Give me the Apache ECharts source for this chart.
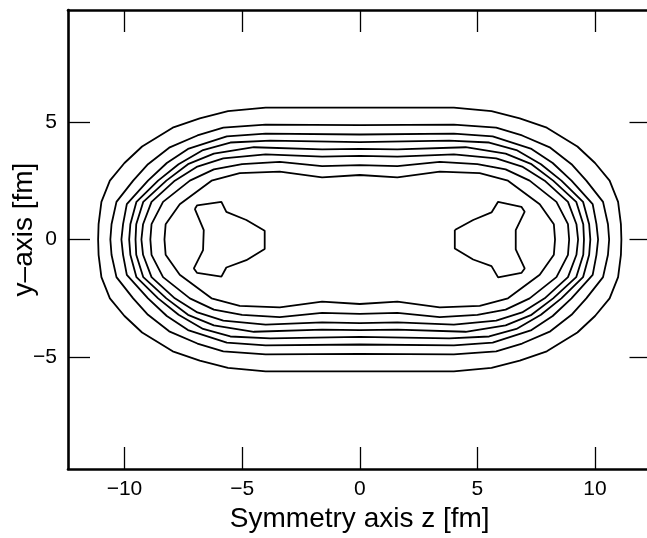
<!DOCTYPE html>
<html>
<head>
<meta charset="utf-8">
<script src="https://cdn.jsdelivr.net/npm/echarts@6/dist/echarts.min.js"></script>
<style>
html,body{margin:0;padding:0;background:#fff;}
#chart{width:647px;height:538px;}
</style>
</head>
<body>
<div id="chart"></div>
<script>
var xTicks = [-10, -5, 0, 5, 10];
var yTicks = [-5, 0, 5];

var contour1 = [[11.12,0],[11.1,0.65],[10.98,1.6],[10.62,2.5],[10.0,3.25],[9.25,3.95],[7.95,4.75],[6.8,5.15],[5.6,5.45],[4.0,5.6],[0,5.6],[-4.0,5.6],[-5.6,5.45],[-6.8,5.15],[-7.95,4.75],[-9.25,3.95],[-10.0,3.25],[-10.62,2.5],[-10.98,1.6],[-11.1,0.65],[-11.12,0],[-11.1,-0.65],[-10.98,-1.6],[-10.62,-2.5],[-10.0,-3.25],[-9.25,-3.95],[-7.95,-4.75],[-6.8,-5.15],[-5.6,-5.45],[-4.0,-5.6],[0,-5.6],[4.0,-5.6],[5.6,-5.45],[6.8,-5.15],[7.95,-4.75],[9.25,-3.95],[10.0,-3.25],[10.62,-2.5],[10.98,-1.6],[11.1,-0.65],[11.12,0]];
var contour2 = [[10.6,0],[10.55,0.65],[10.34,1.6],[9.63,2.5],[9.0,3.2],[8.1,3.9],[6.9,4.42],[5.8,4.75],[4.0,4.88],[0,4.86],[-4.0,4.88],[-5.8,4.75],[-6.9,4.42],[-8.1,3.9],[-9.0,3.2],[-9.63,2.5],[-10.34,1.6],[-10.55,0.65],[-10.6,0],[-10.55,-0.65],[-10.34,-1.6],[-9.63,-2.5],[-9.0,-3.2],[-8.1,-3.9],[-6.9,-4.42],[-5.8,-4.75],[-4.0,-4.88],[0,-4.86],[4.0,-4.88],[5.8,-4.75],[6.9,-4.42],[8.1,-3.9],[9.0,-3.2],[9.63,-2.5],[10.34,-1.6],[10.55,-0.65],[10.6,0]];
var contour3 = [[10.13,0],[10.06,0.65],[9.9,1.5],[9.0,2.5],[8.2,3.25],[7.3,3.85],[5.65,4.38],[4.0,4.5],[0,4.46],[-4.0,4.5],[-5.65,4.38],[-7.3,3.85],[-8.2,3.25],[-9.0,2.5],[-9.9,1.5],[-10.06,0.65],[-10.13,0],[-10.06,-0.65],[-9.9,-1.5],[-9.0,-2.5],[-8.2,-3.25],[-7.3,-3.85],[-5.65,-4.38],[-4.0,-4.5],[0,-4.46],[4.0,-4.5],[5.65,-4.38],[7.3,-3.85],[8.2,-3.25],[9.0,-2.5],[9.9,-1.5],[10.06,-0.65],[10.13,0]];
var contour4 = [[9.8,0],[9.75,0.65],[9.49,1.6],[8.57,2.5],[7.7,3.2],[6.66,3.8],[5.5,4.12],[3.8,4.2],[0,4.14],[-3.8,4.2],[-5.5,4.12],[-6.66,3.8],[-7.7,3.2],[-8.57,2.5],[-9.49,1.6],[-9.75,0.65],[-9.8,0],[-9.75,-0.65],[-9.49,-1.6],[-8.57,-2.5],[-7.7,-3.2],[-6.66,-3.8],[-5.5,-4.12],[-3.8,-4.2],[0,-4.14],[3.8,-4.2],[5.5,-4.12],[6.66,-3.8],[7.7,-3.2],[8.57,-2.5],[9.49,-1.6],[9.75,-0.65],[9.8,0]];
var contour5 = [[9.53,0],[9.5,0.65],[9.2,1.6],[8.22,2.5],[7.3,3.2],[6.2,3.65],[4.5,3.92],[1.6,3.83],[0,3.85],[-1.6,3.83],[-4.5,3.92],[-6.2,3.65],[-7.3,3.2],[-8.22,2.5],[-9.2,1.6],[-9.5,0.65],[-9.53,0],[-9.5,-0.65],[-9.2,-1.6],[-8.22,-2.5],[-7.3,-3.2],[-6.2,-3.65],[-4.5,-3.92],[-1.6,-3.83],[0,-3.85],[1.6,-3.83],[4.5,-3.92],[6.2,-3.65],[7.3,-3.2],[8.22,-2.5],[9.2,-1.6],[9.5,-0.65],[9.53,0]];
var contour6 = [[9.28,0],[9.21,0.65],[8.85,1.6],[7.86,2.5],[6.9,3.1],[5.8,3.45],[4.0,3.62],[1.6,3.52],[0,3.55],[-1.6,3.52],[-4.0,3.62],[-5.8,3.45],[-6.9,3.1],[-7.86,2.5],[-8.85,1.6],[-9.21,0.65],[-9.28,0],[-9.21,-0.65],[-8.85,-1.6],[-7.86,-2.5],[-6.9,-3.1],[-5.8,-3.45],[-4.0,-3.62],[-1.6,-3.52],[0,-3.55],[1.6,-3.52],[4.0,-3.62],[5.8,-3.45],[6.9,-3.1],[7.86,-2.5],[8.85,-1.6],[9.21,-0.65],[9.28,0]];
var contour7 = [[8.9,0],[8.85,0.65],[8.36,1.6],[7.22,2.5],[6.2,2.98],[5.0,3.2],[3.4,3.3],[1.6,3.12],[0,3.16],[-1.6,3.12],[-3.4,3.3],[-5.0,3.2],[-6.2,2.98],[-7.22,2.5],[-8.36,1.6],[-8.85,0.65],[-8.9,0],[-8.85,-0.65],[-8.36,-1.6],[-7.22,-2.5],[-6.2,-2.98],[-5.0,-3.2],[-3.4,-3.3],[-1.6,-3.12],[0,-3.16],[1.6,-3.12],[3.4,-3.3],[5.0,-3.2],[6.2,-2.98],[7.22,-2.5],[8.36,-1.6],[8.85,-0.65],[8.9,0]];
var contour8 = [[8.3,0],[8.25,0.65],[7.65,1.5],[6.3,2.5],[5.1,2.82],[3.4,2.88],[1.6,2.64],[0,2.74],[-1.6,2.64],[-3.4,2.88],[-5.1,2.82],[-6.3,2.5],[-7.65,1.5],[-8.25,0.65],[-8.3,0],[-8.25,-0.65],[-7.65,-1.5],[-6.3,-2.5],[-5.1,-2.82],[-3.4,-2.88],[-1.6,-2.64],[0,-2.74],[1.6,-2.64],[3.4,-2.88],[5.1,-2.82],[6.3,-2.5],[7.65,-1.5],[8.25,-0.65],[8.3,0]];
var blobLeft = [[-7.01,1.3],[-6.91,1.45],[-5.88,1.6],[-5.67,1.17],[-4.82,0.83],[-4.04,0.37],[-4.04,-0.4],[-4.82,-0.88],[-5.67,-1.19],[-5.88,-1.58],[-6.91,-1.42],[-7.05,-1.23],[-6.66,-0.45],[-6.63,0.4],[-7.01,1.3]];
var blobRight = [[4.04,0.4],[4.04,-0.38],[4.82,-0.85],[5.6,-1.13],[5.88,-1.61],[6.87,-1.42],[7.01,-1.23],[6.63,-0.42],[6.63,0.4],[7.01,1.18],[6.87,1.39],[5.88,1.6],[5.6,1.15],[4.82,0.83],[4.04,0.4]];

var contours = [contour1, contour2, contour3, contour4, contour5, contour6, contour7, contour8, blobLeft, blobRight];

var FONT = '"Liberation Sans", Arial, Helvetica, sans-serif';
function fmt(v) { return String(v).replace('-', '\u2212'); }

var axisLineStyle = { color: '#000', width: 2.6 };
var tickStyle = { color: '#000', width: 1.3 };

function xAxisDef(pos, showLabel) {
  return {
    type: 'value', position: pos, min: -12.4, max: 12.4,
    axisLine: { show: true, onZero: false, lineStyle: axisLineStyle },
    axisTick: { show: true, inside: true, length: 22, lineStyle: tickStyle, customValues: xTicks },
    axisLabel: { show: showLabel, customValues: xTicks, formatter: fmt, fontSize: 21, color: '#000', fontFamily: FONT, margin: 10 },
    splitLine: { show: false },
    name: showLabel ? 'Symmetry axis z [fm]' : '',
    nameLocation: 'middle', nameGap: 36, nameMoveOverlap: false,
    nameTextStyle: { fontSize: 28, color: '#000', fontFamily: FONT }
  };
}
function yAxisDef(pos, showLabel) {
  return {
    type: 'value', position: pos, min: -9.75, max: 9.75,
    axisLine: { show: true, onZero: false, lineStyle: axisLineStyle },
    axisTick: { show: true, inside: true, length: 22, lineStyle: tickStyle, customValues: yTicks },
    axisLabel: { show: showLabel, customValues: yTicks, formatter: fmt, fontSize: 21, color: '#000', fontFamily: FONT, margin: 11 },
    splitLine: { show: false },
    name: showLabel ? 'y\u2013axis [fm]' : '',
    nameLocation: 'middle', nameGap: 30, nameRotate: 90, nameMoveOverlap: false,
    nameTextStyle: { fontSize: 28, color: '#000', fontFamily: FONT, padding: [0, 0, 0, 20] }
  };
}

var chart = echarts.init(document.getElementById('chart'), null, { renderer: 'canvas' });
chart.setOption({
  animation: false,
  backgroundColor: '#fff',
  grid: { left: 68, right: -4.5, top: 10, bottom: 69, containLabel: false, outerBoundsMode: 'none' },
  xAxis: [xAxisDef('bottom', true), xAxisDef('top', false)],
  yAxis: [yAxisDef('left', true), yAxisDef('right', false)],
  series: contours.map(function (c) {
    return {
      type: 'line', xAxisIndex: 0, yAxisIndex: 0, data: c,
      showSymbol: false, symbol: 'none', silent: true, clip: true,
      lineStyle: { color: '#000', width: 1.8 }
    };
  })
});
</script>
</body>
</html>
